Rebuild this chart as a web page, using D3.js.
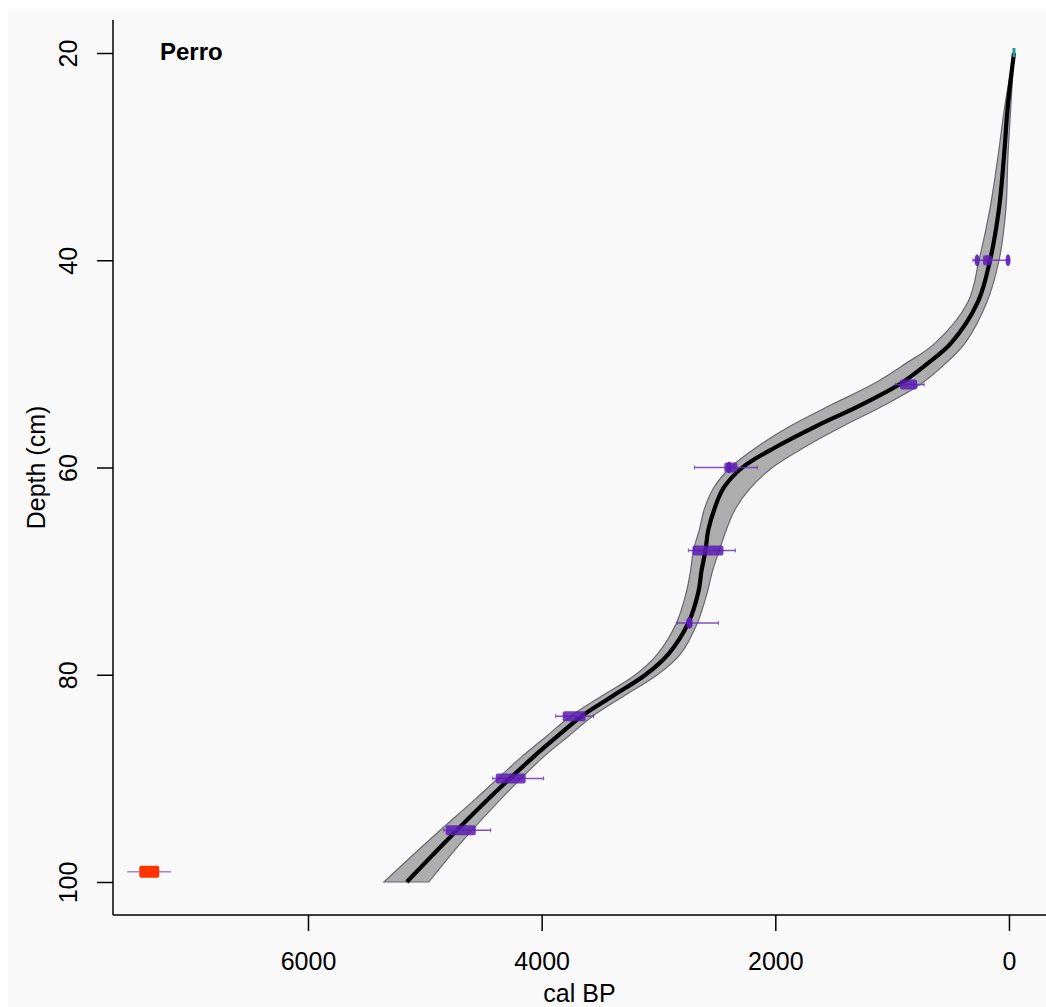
<!DOCTYPE html>
<html><head><meta charset="utf-8">
<script src="https://cdn.jsdelivr.net/npm/d3@7/dist/d3.min.js"></script>
<style>
html,body{margin:0;padding:0;background:#ffffff;}
svg{display:block;font-family:"Liberation Sans",Arial,Helvetica,sans-serif;}
</style></head>
<body>
<svg id="c" width="1046" height="1007"></svg>
<script>
// ---- age-depth model (cal BP) ----
const depths   = [20, 25, 30, 35, 40, 44, 48, 50, 52, 54, 56, 58, 60, 62, 64, 66, 68, 70, 72, 75, 78, 80, 82, 84, 86, 88, 92, 96, 100];
const medianBP = [-43, 9, 43, 85, 162, 265, 496, 701, 940, 1273, 1649, 1991, 2282, 2444, 2521, 2573, 2598, 2632, 2658, 2744, 2915, 3111, 3385, 3658, 3872, 4077, 4457, 4812, 5154];
const minBP    = [-43, -17, 9, 26, 85, 188, 376, 547, 761, 1068, 1419, 1743, 2025, 2214, 2342, 2419, 2479, 2538, 2581, 2667, 2812, 3009, 3290, 3564, 3778, 3991, 4350, 4675, 4966];
const maxBP    = [-43, 34, 94, 162, 256, 350, 632, 889, 1171, 1530, 1872, 2154, 2384, 2530, 2607, 2650, 2701, 2726, 2761, 2846, 3009, 3197, 3479, 3752, 3966, 4179, 4568, 4966, 5350];

// ---- dated samples ----
const dateDepth  = [40, 52, 60, 68, 75, 84, 90, 95, 99];
const dateLo     = [0, 726, 2154, 2342, 2487, 3556, 3983, 4436, 7171];   // whisker young end
const dateHi     = [308, 974, 2692, 2744, 2838, 3880, 4419, 4838, 7547]; // whisker old end
const boxLo      = [145, 786, 2325, 2444, 2709, 3624, 4137, 4564, 7273];
const boxHi      = [222, 932, 2436, 2709, 2761, 3820, 4393, 4821, 7444];
const dateType   = ["c14","c14","c14","c14","c14","c14","c14","c14","outlier"];
// secondary probability peaks
const peakDepth  = [40, 40, 60, 75];
const peakBP     = [273, 8, 2395, 2735];
// surface (core top)
const surfaceDepth = 20, surfaceBP = -43;

const xTicks = [0, 2000, 4000, 6000];
const yTicks = [20, 40, 60, 80, 100];
const title = "Perro";

const svg = d3.select("#c");
const W = 1046, H = 1007;
const pLeft = 113, pRight = 1046, pTop = 20, pBottom = 915;
const FS = 25;

// panel background
svg.append("rect").attr("x", 8).attr("y", 10).attr("width", W - 8).attr("height", H - 10).attr("fill", "#f9f9f9");

const x = d3.scaleLinear().domain([7669, -317]).range([pLeft, pRight]);
const y = d3.scaleLinear().domain([20 - 33 / 10.3625, 100 + 33 / 10.3625]).range([pTop, pBottom]);

const model = depths.map((d, i) => ({d, med: medianBP[i], lo: minBP[i], hi: maxBP[i]}));
const curve = d3.curveCatmullRom.alpha(0.5);

// uncertainty band
svg.append("path").datum(model)
  .attr("d", d3.area().curve(curve).y(p => y(p.d)).x0(p => x(p.lo)).x1(p => x(p.hi)))
  .attr("fill", "#adadad").attr("stroke", "#6a6672").attr("stroke-width", 1.2);

// median
svg.append("path").datum(model)
  .attr("d", d3.line().curve(curve).y(p => y(p.d)).x(p => x(p.med)))
  .attr("fill", "none").attr("stroke", "#000").attr("stroke-width", 4.2);

// dates
const dates = dateDepth.map((d, i) => ({d, lo: dateLo[i], hi: dateHi[i], bl: boxLo[i], bh: boxHi[i], t: dateType[i]}));
const g = svg.append("g");
dates.forEach(dt => {
  const col = dt.t === "outlier" ? "#ff3300" : "#5a1db3";
  const wcol = dt.t === "outlier" ? "#9b6fe0" : "#6a35c0";
  const yc = y(dt.d);
  g.append("line").attr("x1", x(dt.hi)).attr("x2", x(dt.lo)).attr("y1", yc).attr("y2", yc)
    .attr("stroke", wcol).attr("stroke-width", 1.5).attr("opacity", 0.85);
  const h = dt.t === "outlier" ? 12 : 10;
  g.append("rect").attr("x", x(dt.bh)).attr("width", Math.max(4, x(dt.bl) - x(dt.bh)))
    .attr("y", yc - h / 2).attr("height", h).attr("rx", 2)
    .attr("fill", col).attr("opacity", dt.t === "outlier" ? 1 : 0.85);
  if (dt.t !== "outlier") {
    [dt.lo, dt.hi].forEach(v => {
      g.append("line").attr("x1", x(v)).attr("x2", x(v)).attr("y1", yc - 2).attr("y2", yc + 2)
        .attr("stroke", col).attr("stroke-width", 1).attr("opacity", 0.7);
    });
  }
});
peakDepth.forEach((d, i) => {
  g.append("ellipse").attr("cx", x(peakBP[i])).attr("cy", y(d)).attr("rx", 2.5).attr("ry", 6)
    .attr("fill", "#5a1db3").attr("opacity", 0.9);
});
// surface marker
svg.append("line").attr("x1", x(surfaceBP)).attr("x2", x(surfaceBP))
  .attr("y1", y(surfaceDepth) - 5).attr("y2", y(surfaceDepth) + 4)
  .attr("stroke", "#1a9e9e").attr("stroke-width", 3);

// axes
const axisCol = "#000";
svg.append("line").attr("x1", pLeft).attr("x2", pLeft).attr("y1", pTop).attr("y2", pBottom).attr("stroke", axisCol).attr("stroke-width", 1.5);
svg.append("line").attr("x1", pLeft).attr("x2", pRight).attr("y1", pBottom).attr("y2", pBottom).attr("stroke", axisCol).attr("stroke-width", 1.5);

const ya = svg.append("g").attr("transform", `translate(${pLeft},0)`)
  .call(d3.axisLeft(y).tickValues(yTicks).tickSize(16).tickFormat(d3.format("d")));
ya.select(".domain").remove();
ya.selectAll(".tick line").attr("stroke", axisCol).attr("stroke-width", 1.5);
ya.selectAll(".tick text").attr("font-size", FS).attr("fill", "#000")
  .attr("transform", "rotate(-90)").attr("x", 0).attr("y", -45).attr("dy", "0.35em").attr("text-anchor", "middle");

const xa = svg.append("g").attr("transform", `translate(0,${pBottom})`)
  .call(d3.axisBottom(x).tickValues(xTicks).tickSize(16).tickFormat(d3.format("d")));
xa.select(".domain").remove();
xa.selectAll(".tick line").attr("stroke", axisCol).attr("stroke-width", 1.5);
xa.selectAll(".tick text").attr("font-size", FS).attr("fill", "#000").attr("y", 46).attr("dy", "0.35em");

svg.append("text").attr("x", (pLeft + pRight) / 2).attr("y", 1002).attr("text-anchor", "middle")
  .attr("font-size", FS).attr("fill", "#000").text("cal BP");
svg.append("text").attr("transform", `translate(45,${(pTop + pBottom) / 2}) rotate(-90)`).attr("text-anchor", "middle")
  .attr("font-size", FS).attr("fill", "#000").text("Depth (cm)");

svg.append("text").attr("x", 160).attr("y", 60).attr("font-size", 24).attr("font-weight", "bold")
  .attr("fill", "#000").text(title);
</script>
</body></html>
